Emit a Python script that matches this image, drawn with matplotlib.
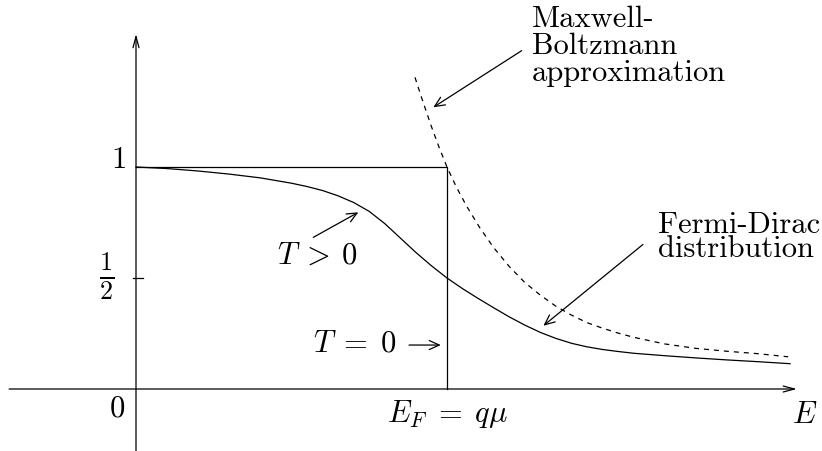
import matplotlib.pyplot as plt

plt.rcParams["mathtext.fontset"] = "cm"
plt.rcParams["lines.scale_dashes"] = False

# Energy in units of E_F, occupation probability f(E)
E_F = 1.0
E_fd = [0.0, 0.1, 0.2, 0.3, 0.4, 0.5, 0.55, 0.6, 0.65, 0.7, 0.75, 0.8, 0.85,
        0.9, 0.95, 1.0, 1.05, 1.1, 1.15, 1.2, 1.25, 1.3, 1.35, 1.4, 1.45, 1.5,
        1.55, 1.6, 1.7, 1.8, 1.9, 2.0, 2.103]
f_fd = [1.0, 0.993, 0.982, 0.968, 0.951, 0.927, 0.912, 0.894, 0.870, 0.840,
        0.800, 0.745, 0.680, 0.615, 0.555, 0.5, 0.452, 0.408, 0.366, 0.325,
        0.288, 0.255, 0.228, 0.206, 0.190, 0.178, 0.169, 0.161, 0.150, 0.140,
        0.131, 0.123, 0.114]

# Maxwell-Boltzmann approximation (dashed)
E_mb = [0.897, 0.92, 0.95, 0.975, 1.0, 1.03, 1.063, 1.106, 1.15, 1.2, 1.25,
        1.3, 1.35, 1.4, 1.45, 1.5, 1.55, 1.6, 1.7, 1.8, 1.9, 2.0, 2.097]
f_mb = [1.404, 1.305, 1.182, 1.087, 1.0, 0.91, 0.824, 0.725, 0.637, 0.552,
        0.480, 0.423, 0.373, 0.333, 0.299, 0.274, 0.252, 0.233, 0.203, 0.183,
        0.170, 0.159, 0.145]

# T = 0 step
E_step = [0.0, E_F, E_F]
f_step = [1.0, 1.0, 0.0]

fig = plt.figure(figsize=(8.22, 4.52), dpi=100)
ax = fig.add_axes([0, 0, 1, 1])
ax.set_xlim(-0.4373, 2.2058)
ax.set_ylim(-0.2793, 1.7568)
ax.axis("off")

lw = 0.9
ink = "black"
axis_arrow = dict(arrowstyle="->,head_length=0.45,head_width=0.12",
                  lw=lw, color=ink, shrinkA=0, shrinkB=0, mutation_scale=18)
note_arrow = dict(arrowstyle="->,head_length=0.4,head_width=0.18",
                  lw=lw, color=ink, shrinkA=0, shrinkB=0, mutation_scale=18)

# axes with arrow heads
ax.annotate("", xy=(2.125, 0), xytext=(-0.408, 0), arrowprops=axis_arrow)
ax.annotate("", xy=(0, 1.599), xytext=(0, -0.2793), arrowprops=axis_arrow)
ax.plot([-0.0096, 0.0225], [0.5, 0.5], color=ink, lw=lw)

# curves
ax.plot(E_step, f_step, color=ink, lw=lw)
ax.plot(E_fd, f_fd, color=ink, lw=lw)
ax.plot(E_mb, f_mb, color=ink, lw=lw, linestyle=(0, (3.6, 3.6)))

# labels
fs = 22
ax.text(-0.032, 1.0, "$1$", fontsize=fs, ha="right", va="baseline")
ax.text(-0.070, 0.51, r"$\frac{1}{2}$", fontsize=27, ha="right", va="center")
ax.text(-0.035, -0.120, "$0$", fontsize=fs, ha="right", va="baseline")
ax.text(2.109, -0.149, "$E$", fontsize=fs, ha="left", va="baseline")
ax.text(E_F, -0.144, r"$E_F\;=\;q\mu$", fontsize=fs, ha="center", va="baseline")

ax.text(0.453, 0.568, r"$T\:>\:0$", fontsize=fs, ha="left", va="baseline")
ax.annotate("", xy=(0.715, 0.796), xytext=(0.570, 0.683), arrowprops=note_arrow)

ax.text(0.570, 0.172, r"$T\;=\;0$", fontsize=fs, ha="left", va="baseline")
ax.annotate("", xy=(0.980, 0.198), xytext=(0.878, 0.198), arrowprops=note_arrow)

# multi-line labels: y is the baseline of the last line
ax.text(1.272, 1.392, "Maxwell-\nBoltzmann\napproximation", fontsize=fs,
        family="cmr10", ha="left", va="baseline", linespacing=0.97)
ax.annotate("", xy=(0.956, 1.269), xytext=(1.240, 1.524), arrowprops=note_arrow)

ax.text(1.680, 0.600, "Fermi-Dirac\ndistribution", fontsize=fs,
        family="cmr10", ha="left", va="baseline", linespacing=0.83)
ax.annotate("", xy=(1.310, 0.285), xytext=(1.630, 0.651), arrowprops=note_arrow)

fig.savefig("out.png", dpi=100)
